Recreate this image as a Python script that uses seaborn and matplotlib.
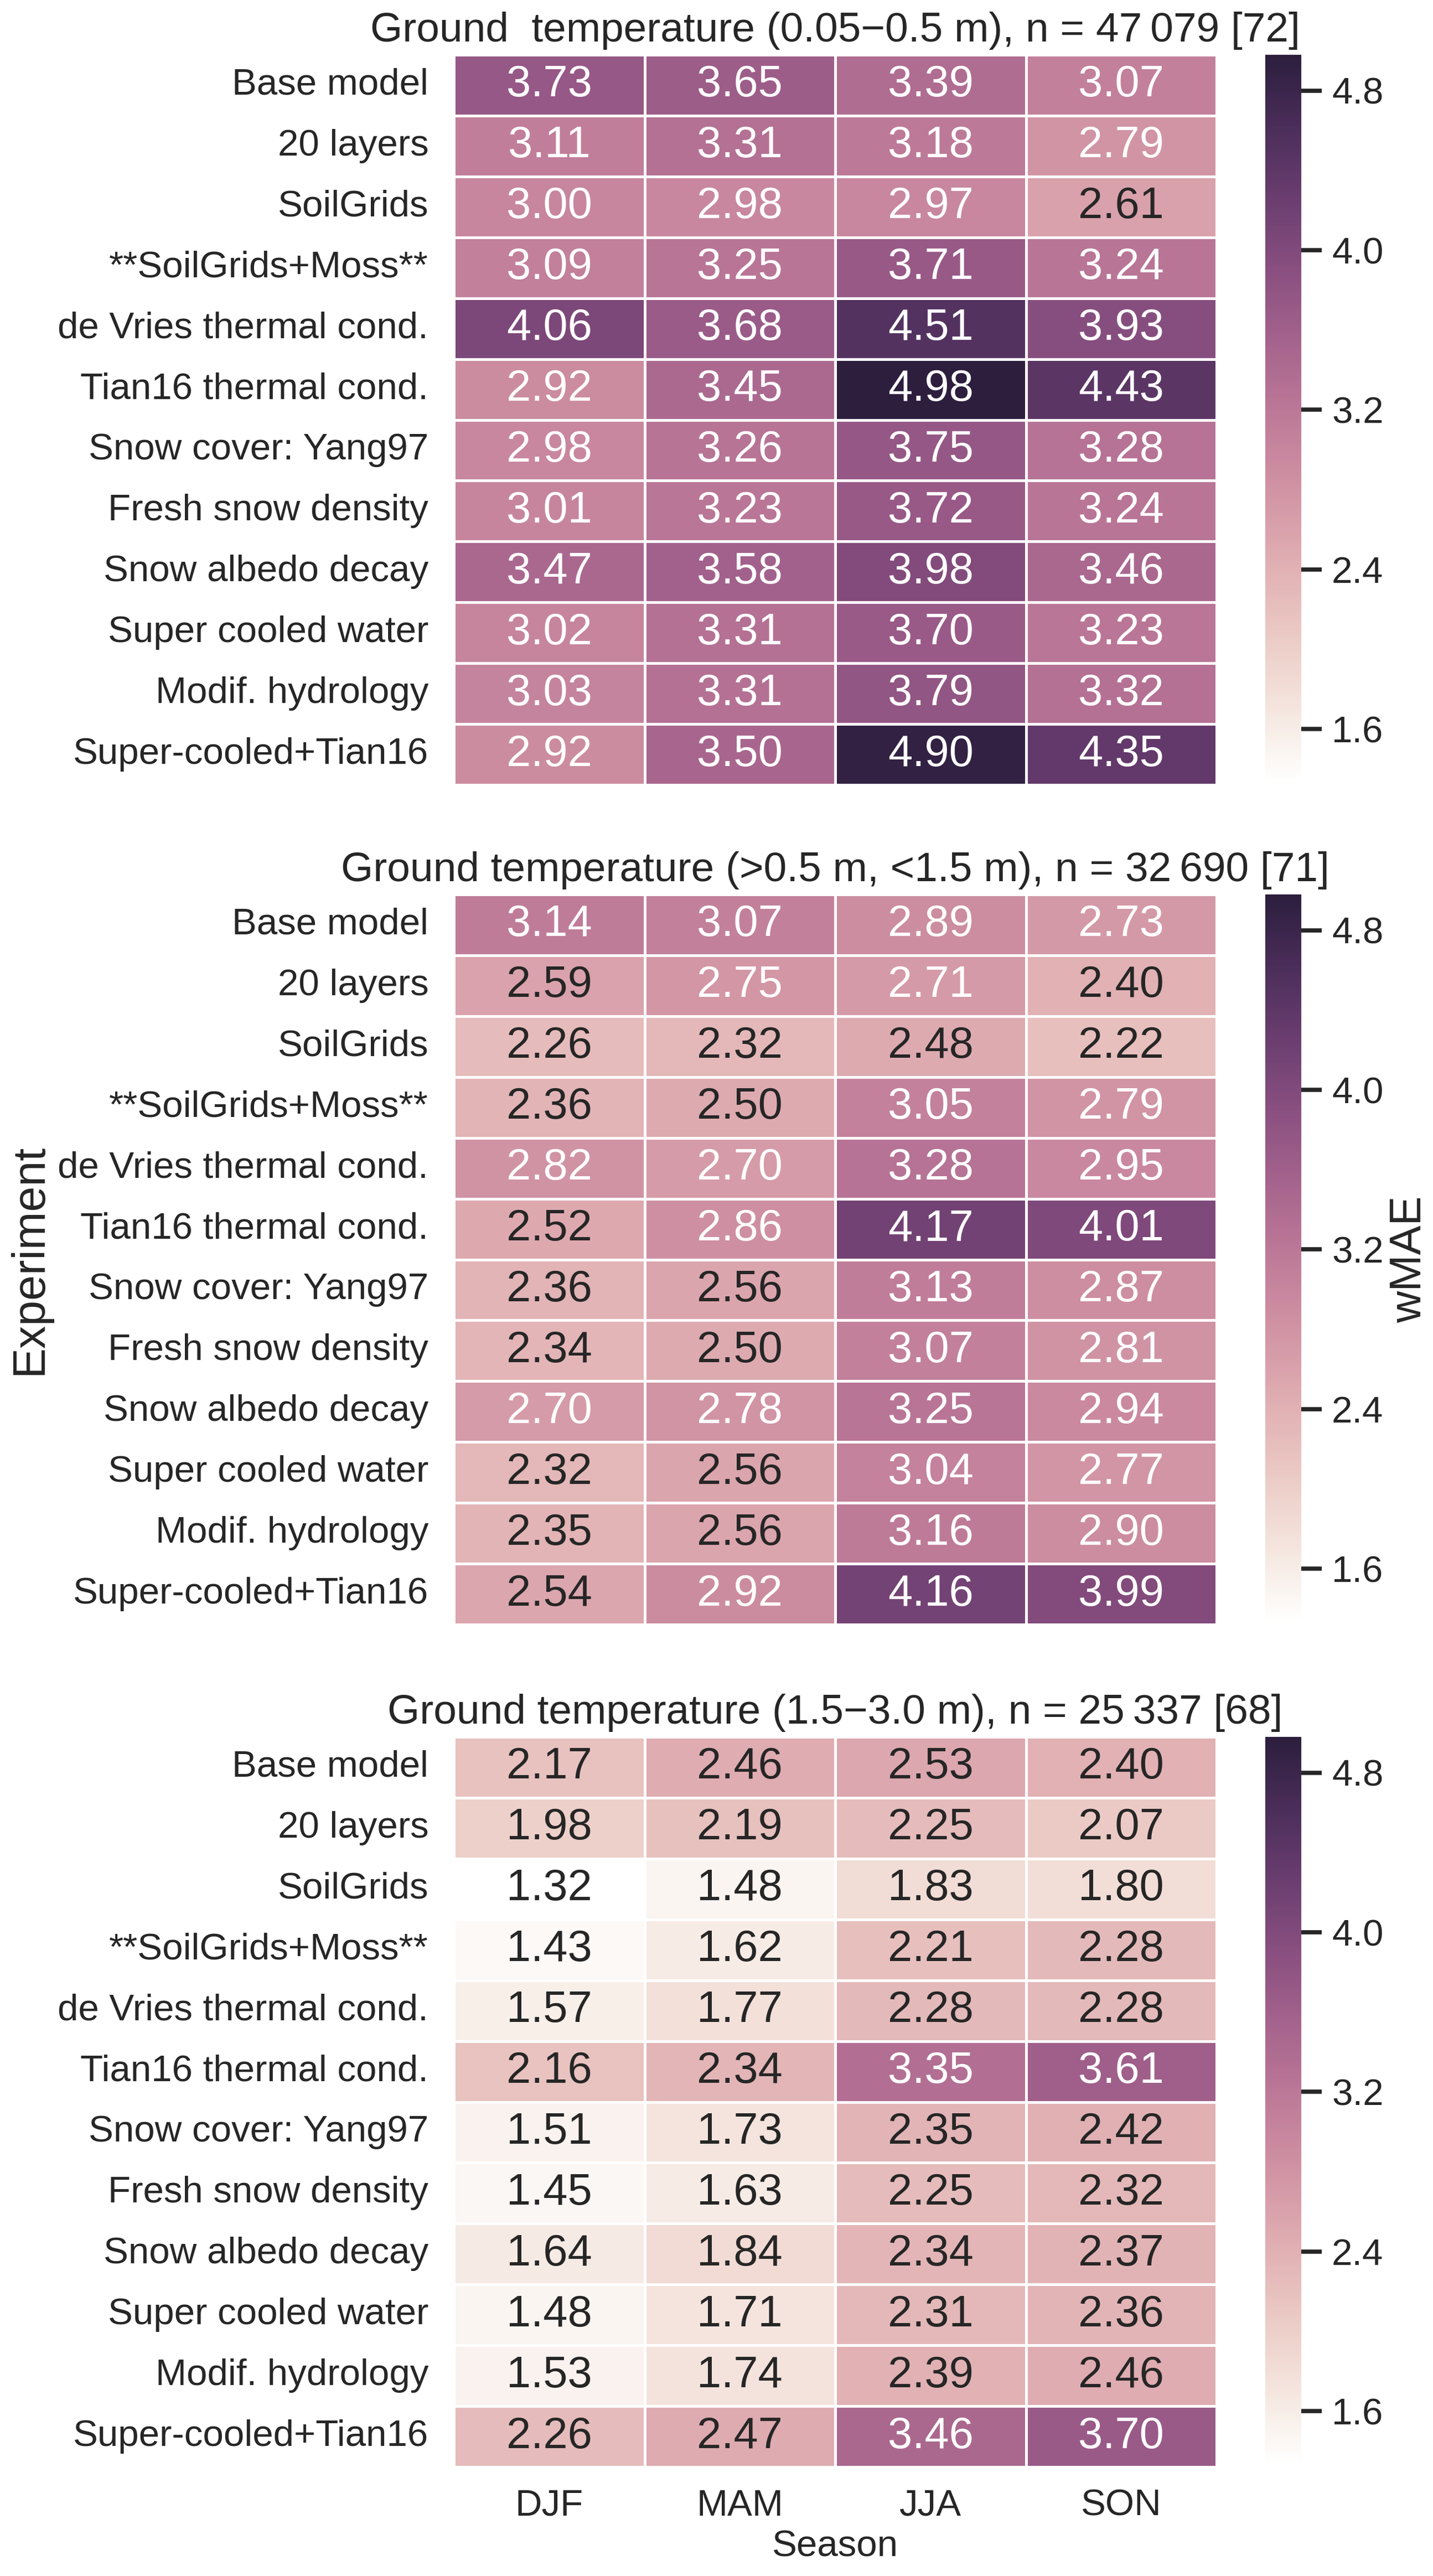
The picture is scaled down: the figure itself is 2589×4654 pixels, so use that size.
import numpy as np
import pandas as pd
import seaborn as sns
import matplotlib
matplotlib.use("Agg")
import matplotlib.pyplot as plt

experiments = ["Base model", "20 layers", "SoilGrids", "**SoilGrids+Moss**",
               "de Vries thermal cond.", "Tian16 thermal cond.", "Snow cover: Yang97",
               "Fresh snow density", "Snow albedo decay", "Super cooled water",
               "Modif. hydrology", "Super-cooled+Tian16"]
seasons = ["DJF", "MAM", "JJA", "SON"]

titles = ["Ground  temperature (0.05\u22120.5 m), n = 47\u2009079 [72]",
          "Ground temperature (>0.5 m, <1.5 m), n = 32\u2009690 [71]",
          "Ground temperature (1.5\u22123.0 m), n = 25\u2009337 [68]"]

# Panel 1: 0.05-0.5 m
p1_djf = [3.73, 3.11, 3.00, 3.09, 4.06, 2.92, 2.98, 3.01, 3.47, 3.02, 3.03, 2.92]
p1_mam = [3.65, 3.31, 2.98, 3.25, 3.68, 3.45, 3.26, 3.23, 3.58, 3.31, 3.31, 3.50]
p1_jja = [3.39, 3.18, 2.97, 3.71, 4.51, 4.98, 3.75, 3.72, 3.98, 3.70, 3.79, 4.90]
p1_son = [3.07, 2.79, 2.61, 3.24, 3.93, 4.43, 3.28, 3.24, 3.46, 3.23, 3.32, 4.35]

# Panel 2: >0.5 m, <1.5 m
p2_djf = [3.14, 2.59, 2.26, 2.36, 2.82, 2.52, 2.36, 2.34, 2.70, 2.32, 2.35, 2.54]
p2_mam = [3.07, 2.75, 2.32, 2.50, 2.70, 2.86, 2.56, 2.50, 2.78, 2.56, 2.56, 2.92]
p2_jja = [2.89, 2.71, 2.48, 3.05, 3.28, 4.17, 3.13, 3.07, 3.25, 3.04, 3.16, 4.16]
p2_son = [2.73, 2.40, 2.22, 2.79, 2.95, 4.01, 2.87, 2.81, 2.94, 2.77, 2.90, 3.99]

# Panel 3: 1.5-3.0 m
p3_djf = [2.17, 1.98, 1.32, 1.43, 1.57, 2.16, 1.51, 1.45, 1.64, 1.48, 1.53, 2.26]
p3_mam = [2.46, 2.19, 1.48, 1.62, 1.77, 2.34, 1.73, 1.63, 1.84, 1.71, 1.74, 2.47]
p3_jja = [2.53, 2.25, 1.83, 2.21, 2.28, 3.35, 2.35, 2.25, 2.34, 2.31, 2.39, 3.46]
p3_son = [2.40, 2.07, 1.80, 2.28, 2.28, 3.61, 2.42, 2.32, 2.37, 2.36, 2.46, 3.70]

cbar_ticks = [1.6, 2.4, 3.2, 4.0, 4.8]

panels = [
    pd.DataFrame({"DJF": p1_djf, "MAM": p1_mam, "JJA": p1_jja, "SON": p1_son}, index=experiments),
    pd.DataFrame({"DJF": p2_djf, "MAM": p2_mam, "JJA": p2_jja, "SON": p2_son}, index=experiments),
    pd.DataFrame({"DJF": p3_djf, "MAM": p3_mam, "JJA": p3_jja, "SON": p3_son}, index=experiments),
]

sns.set_theme(context="poster", style="white")
plt.rcParams["font.family"] = ["Liberation Sans", "DejaVu Sans"]

W, H, DPI = 2589, 4654, 220
fig = plt.figure(figsize=(W / DPI, H / DPI), dpi=DPI)

cmap = sns.cubehelix_palette(light=1, as_cmap=True)
vmin = min(df.values.min() for df in panels)
vmax = max(df.values.max() for df in panels)

ax_left, ax_right = 820, 2198
cax_left, cax_right = 2286, 2351
tops = [99, 1616, 3138]
ph = 1319

for i, (df, title) in enumerate(zip(panels, titles)):
    top = tops[i]
    ax = fig.add_axes([ax_left / W, (H - top - ph) / H, (ax_right - ax_left) / W, ph / H])
    cax = fig.add_axes([cax_left / W, (H - top - ph) / H, (cax_right - cax_left) / W, ph / H])
    df.index.name = "Experiment"
    df.columns.name = "Season"
    sns.heatmap(df, ax=ax, cbar_ax=cax, cmap=cmap, vmin=vmin, vmax=vmax,
                annot=True, fmt=".2f", annot_kws={"fontsize": 26},
                linewidths=1, linecolor="white",
                cbar_kws={"ticks": cbar_ticks})
    ax.set_title(title, fontsize=24.5, pad=8)
    ax.tick_params(axis="both", length=0, labelsize=22)
    ax.tick_params(axis="y", pad=15, rotation=0)
    ax.tick_params(axis="x", pad=13, rotation=0)
    cax.tick_params(length=12, width=2.5, labelsize=22, pad=6, color=".15")
    if i == 2:
        ax.set_xlabel("Season", fontsize=22, labelpad=4)
    else:
        ax.set_xlabel("")
        ax.set_xticklabels([])
    if i == 1:
        ax.set_ylabel("Experiment", fontsize=27)
        ax.yaxis.set_label_coords((92 - ax_left) / (ax_right - ax_left), 0.5)
        cax.set_ylabel("wMAE", fontsize=26, labelpad=3)
    else:
        ax.set_ylabel("")

fig.savefig("out.png", dpi=DPI)
